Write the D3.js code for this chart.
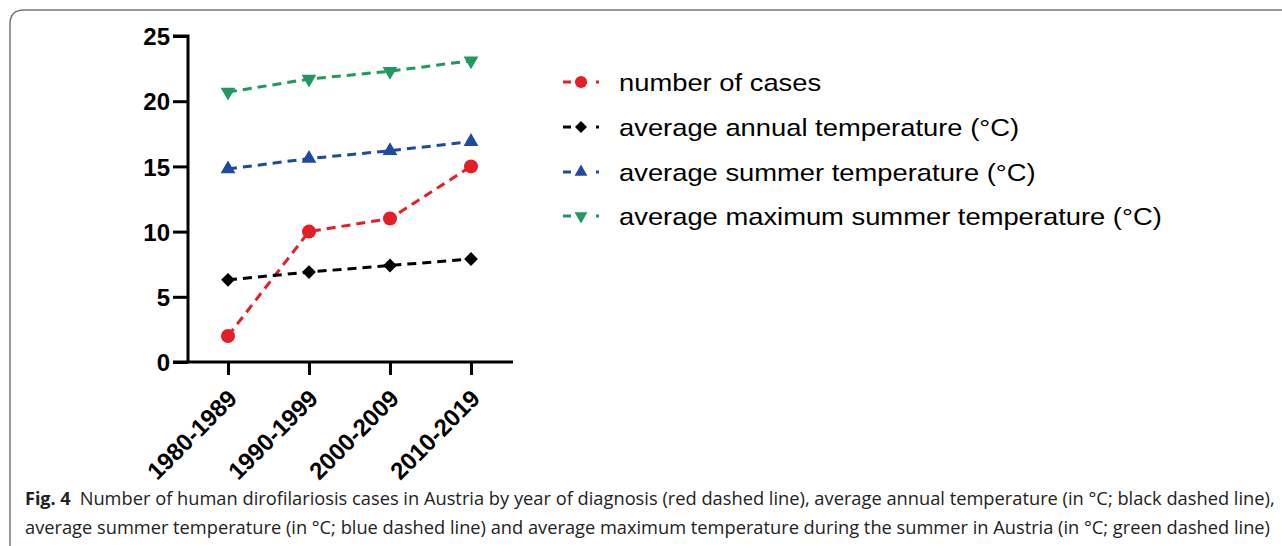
<!DOCTYPE html>
<html>
<head>
<meta charset="utf-8">
<script src="https://cdn.jsdelivr.net/npm/d3@7"></script>
<style>
  body { margin: 0; background: #fff; }
  svg { display: block; }
</style>
</head>
<body>
<svg id="chart" width="1282" height="546"></svg>
<script>
// data
const decades = ['1980-1989', '1990-1999', '2000-2009', '2010-2019'];
const cases = [2, 10, 11, 15];
const annualTemp = [6.3, 6.9, 7.4, 7.9];
const summerTemp = [14.8, 15.6, 16.2, 16.9];
const maxSummerTemp = [20.7, 21.7, 22.3, 23.1];
const yTicks = [0, 5, 10, 15, 20, 25];

const seriesNames = [
  'number of cases',
  'average annual temperature (°C)',
  'average summer temperature (°C)',
  'average maximum summer temperature (°C)',
];

const series = [
  { name: seriesNames[0], values: cases, color: '#e41e26', symbol: d3.symbolCircle, size: 155, rot: 0 },
  { name: seriesNames[1], values: annualTemp, color: '#000000', symbol: d3.symbolSquare, size: 95, rot: 45 },
  { name: seriesNames[2], values: summerTemp, color: '#1f4aa0', symbol: d3.symbolTriangle, size: 95, rot: 0 },
  { name: seriesNames[3], values: maxSummerTemp, color: '#1f9960', symbol: d3.symbolTriangle, size: 95, rot: 180 },
];

const svg = d3.select('#chart');

// frame round the figure
svg.append('path')
  .attr('d', 'M10,546 L10,24 Q10,10 24,10 L1282,10')
  .attr('fill', 'none')
  .attr('stroke', '#777')
  .attr('stroke-width', 1.5);

const x = d3.scalePoint()
  .domain(decades)
  .range([228, 471]);

const y = d3.scaleLinear()
  .domain([0, 25])
  .range([362, 36]);

// y axis
const yAxis = svg.append('g')
  .attr('transform', 'translate(188,0)')
  .call(d3.axisLeft(y).tickValues(yTicks).tickSize(15).tickPadding(3));
yAxis.select('.domain').attr('d', 'M-15,36H0V362');

// x axis
const xAxis = svg.append('g')
  .attr('transform', 'translate(0,362)')
  .call(d3.axisBottom(x).tickSize(13).tickSizeOuter(0));
xAxis.select('.domain').attr('d', 'M173,0H513');

svg.selectAll('.domain, .tick line')
  .attr('stroke', '#000')
  .attr('stroke-width', 3);

yAxis.selectAll('text')
  .attr('font-family', 'Liberation Sans, Arial, sans-serif')
  .attr('font-weight', 'bold')
  .attr('font-size', 24)
  .attr('fill', '#000')
  .attr('dy', '0.36em');

xAxis.selectAll('text')
  .attr('font-family', 'Liberation Sans, Arial, sans-serif')
  .attr('font-weight', 'bold')
  .attr('font-size', 24)
  .attr('fill', '#000')
  .attr('text-anchor', 'end')
  .attr('transform', 'translate(4,32) rotate(-45)')
  .attr('dy', '0.35em')
  .attr('y', 0);

// lines and markers
const line = d3.line()
  .x((d, i) => x(decades[i]))
  .y(d => y(d));

series.forEach(s => {
  svg.append('path')
    .datum(s.values)
    .attr('d', line)
    .attr('fill', 'none')
    .attr('stroke', s.color)
    .attr('stroke-width', 3)
    .attr('stroke-dasharray', '9,6');

  svg.append('g')
    .selectAll('path')
    .data(s.values)
    .join('path')
    .attr('d', d3.symbol(s.symbol, s.size))
    .attr('fill', s.color)
    .attr('transform', (d, i) => `translate(${x(decades[i])},${y(d)}) rotate(${s.rot})`);
});

// legend
const legendY = [82, 127, 172, 216];
const legend = svg.append('g');
series.forEach((s, i) => {
  const g = legend.append('g').attr('transform', `translate(0,${legendY[i]})`);
  g.append('line')
    .attr('x1', 563).attr('x2', 571)
    .attr('stroke', s.color).attr('stroke-width', 3);
  g.append('line')
    .attr('x1', 596).attr('x2', 599)
    .attr('stroke', s.color).attr('stroke-width', 3);
  g.append('path')
    .attr('d', d3.symbol(s.symbol, s.size * 0.75))
    .attr('fill', s.color)
    .attr('transform', `translate(581,0) rotate(${s.rot})`);
  g.append('text')
    .attr('transform', 'translate(619,0) scale(1.14,1)')
    .attr('dy', '0.36em')
    .attr('font-family', 'Liberation Sans, Arial, sans-serif')
    .attr('font-size', 24)
    .attr('fill', '#000')
    .text(s.name);
});

// caption
const caption1 = 'Number of human dirofilariosis cases in Austria by year of diagnosis (red dashed line), average annual temperature (in °C; black dashed line),';
const caption2 = 'average summer temperature (in °C; blue dashed line) and average maximum temperature during the summer in Austria (in °C; green dashed line)';

const cap = svg.append('g')
  .attr('font-family', 'Open Sans, sans-serif')
  .attr('font-size', 18)
  .attr('fill', '#222');

const t1 = cap.append('text').attr('x', 25).attr('y', 505);
t1.append('tspan').attr('font-weight', 'bold').text('Fig. 4');
t1.append('tspan').attr('dx', 9).text(caption1)
  .attr('textLength', 1195).attr('lengthAdjust', 'spacingAndGlyphs');

cap.append('text').attr('x', 25).attr('y', 534)
  .attr('textLength', 1245).attr('lengthAdjust', 'spacingAndGlyphs')
  .text(caption2);
</script>
</body>
</html>
